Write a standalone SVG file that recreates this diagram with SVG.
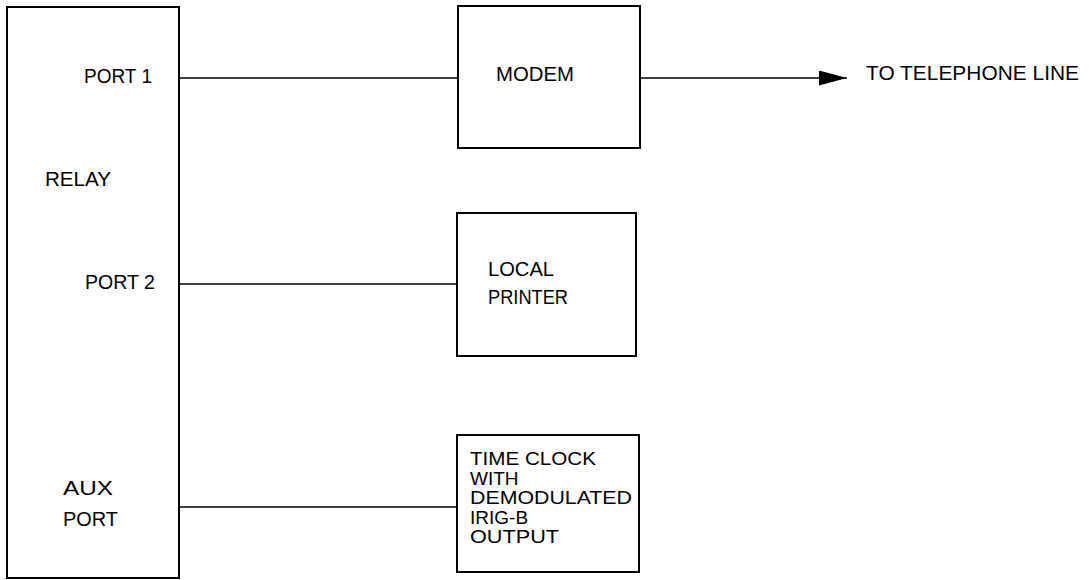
<svg xmlns="http://www.w3.org/2000/svg" width="1089" height="580" viewBox="0 0 1089 580">
<style>
.box{fill:#fff;stroke:#000;stroke-width:2}
.ln{fill:none;stroke:#000;stroke-width:1.6}
text{font-family:"Liberation Sans",Arial,sans-serif;font-size:20px;fill:#000}
.tc{font-size:19px}
</style>
<defs>
<marker id="arr" markerUnits="userSpaceOnUse" markerWidth="30" markerHeight="16" refX="28" refY="7.5" orient="auto">
<polygon points="0,0 28,7.5 0,15" fill="#000"/>
</marker>
</defs>
<rect width="1089" height="580" fill="#fff"/>
<g id="relay">
<rect class="box" x="7" y="7" width="172" height="571"/>
<text x="84" y="83" textLength="68" lengthAdjust="spacingAndGlyphs">PORT 1</text>
<text x="45" y="186" textLength="66" lengthAdjust="spacingAndGlyphs">RELAY</text>
<text x="85" y="289" textLength="70" lengthAdjust="spacingAndGlyphs">PORT 2</text>
<text x="63" y="495" textLength="50" lengthAdjust="spacingAndGlyphs">AUX</text>
<text x="63" y="526" textLength="55" lengthAdjust="spacingAndGlyphs">PORT</text>
</g>
<g id="modem">
<rect class="box" x="458" y="6" width="182" height="142"/>
<text x="496" y="81" textLength="78" lengthAdjust="spacingAndGlyphs" style="font-size:21px">MODEM</text>
</g>
<g id="printer">
<rect class="box" x="457" y="213" width="179" height="143"/>
<text x="488" y="276" textLength="66" lengthAdjust="spacingAndGlyphs">LOCAL</text>
<text x="488" y="304" textLength="80" lengthAdjust="spacingAndGlyphs">PRINTER</text>
</g>
<g id="timeclock">
<rect class="box" x="457" y="435" width="182" height="137"/>
<text class="tc" x="470" y="465" textLength="126" lengthAdjust="spacingAndGlyphs">TIME CLOCK</text>
<text class="tc" x="470" y="484.5">WITH</text>
<text class="tc" x="470" y="504" textLength="162" lengthAdjust="spacingAndGlyphs">DEMODULATED</text>
<text class="tc" x="470" y="523.5">IRIG-B</text>
<text class="tc" x="470" y="543" textLength="89" lengthAdjust="spacingAndGlyphs">OUTPUT</text>
</g>
<g id="telephone">
<text x="866" y="80" textLength="213" lengthAdjust="spacingAndGlyphs" style="font-size:21px">TO TELEPHONE LINE</text>
</g>
<g id="connectors">
<line class="ln" x1="179" y1="78" x2="458" y2="78"/>
<line class="ln" x1="179" y1="284" x2="457" y2="284"/>
<line class="ln" x1="179" y1="507" x2="457" y2="507"/>
<line class="ln" x1="640" y1="78" x2="847" y2="78" marker-end="url(#arr)"/>
</g>
</svg>
